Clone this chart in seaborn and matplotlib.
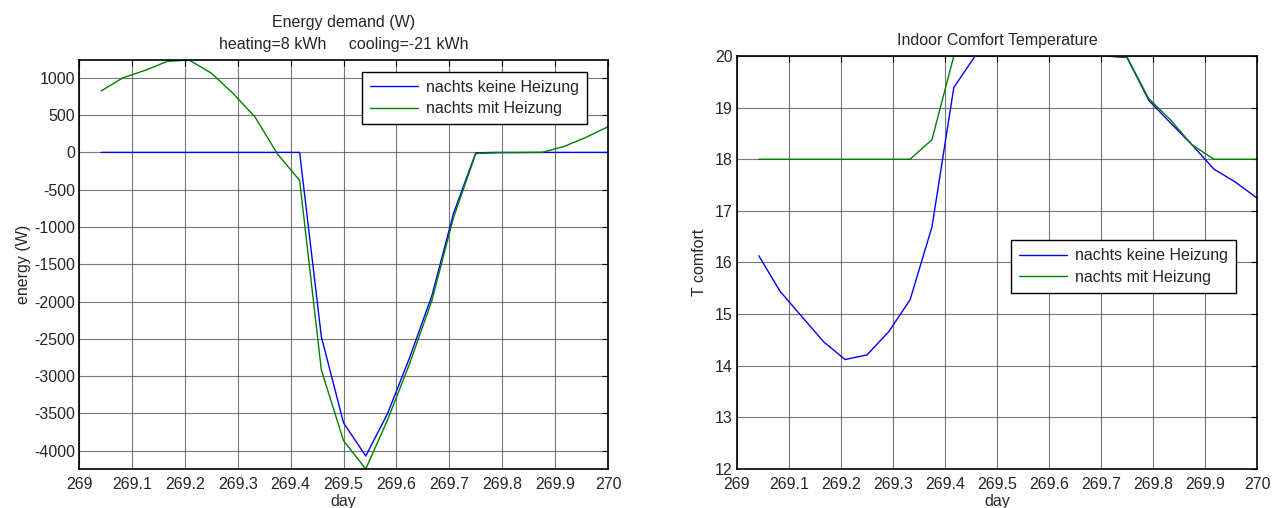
import numpy as np
import pandas as pd
import matplotlib
matplotlib.use("Agg")
import matplotlib.pyplot as plt
import seaborn as sns

# ---- data ----
day = [269.042, 269.083, 269.125, 269.167, 269.208, 269.250, 269.292, 269.333,
       269.375, 269.417, 269.458, 269.500, 269.542, 269.583, 269.625, 269.667,
       269.708, 269.750, 269.792, 269.833, 269.875, 269.917, 269.958, 270.000]

energy_no_heat = [0, 0, 0, 0, 0, 0, 0, 0,
                  0, 0, -2470, -3625, -4070, -3505, -2750, -1920,
                  -815, -5, 0, 0, 0, 0, 0, 0]
energy_heat = [825, 1000, 1100, 1220, 1238, 1063, 785, 471,
               -20, -375, -2915, -3865, -4244, -3590, -2830, -1985,
               -870, -15, -5, -3, 0, 80, 200, 345]

temp_no_heat = [16.13, 15.44, 14.95, 14.46, 14.12, 14.21, 14.66, 15.28,
                16.69, 19.39, 20.0, 20.0, 20.0, 20.0, 20.0, 20.0,
                20.0, 19.97, 19.14, 18.71, 18.28, 17.81, 17.56, 17.25]
temp_heat = [18.0, 18.0, 18.0, 18.0, 18.0, 18.0, 18.0, 18.0,
             18.38, 20.0, 20.0, 20.0, 20.0, 20.0, 20.0, 20.0,
             20.0, 19.98, 19.17, 18.77, 18.28, 18.0, 18.0, 18.0]

series_names = ["nachts keine Heizung", "nachts mit Heizung"]
colors = ["#0000ff", "#008000"]
xticks = [269, 269.1, 269.2, 269.3, 269.4, 269.5, 269.6, 269.7, 269.8, 269.9, 270]
xticklabels = ["269", "269.1", "269.2", "269.3", "269.4", "269.5", "269.6",
               "269.7", "269.8", "269.9", "270"]
energy_yticks = [1000, 500, 0, -500, -1000, -1500, -2000, -2500, -3000, -3500, -4000]
temp_yticks = [12, 13, 14, 15, 16, 17, 18, 19, 20]

sns.set_style("white")
plt.rcParams['font.family'] = ['Liberation Sans', 'DejaVu Sans']
plt.rcParams['axes.unicode_minus'] = False

fig = plt.figure(figsize=(12.79, 5.08), dpi=100)
ax1 = fig.add_axes([0.0618, 0.0768, 0.4136, 0.805])
ax2 = fig.add_axes([0.5762, 0.0768, 0.4066, 0.813])

FS = 11.5

def style_axes(ax):
    ax.grid(True, color="#555555", linewidth=0.8, alpha=0.8)
    ax.set_axisbelow(True)
    for s in ax.spines.values():
        s.set_color("black")
        s.set_linewidth(1.2)
    ax.tick_params(direction="in", top=True, right=True, length=4,
                   labelsize=FS, color="black")
    ax.tick_params(axis="x", pad=6)
    ax.tick_params(axis="y", pad=3)
    ax.set_xticks(xticks)
    ax.set_xticklabels(xticklabels)
    ax.set_xlim(269, 270)

def add_legend(ax, anchor):
    h = [plt.Line2D([], [], color=c, lw=1.0) for c in colors]
    leg = ax.legend(h, series_names, loc="upper right", bbox_to_anchor=anchor,
                    fontsize=FS, frameon=True, fancybox=False, edgecolor="black",
                    framealpha=1, handlelength=3.0, handletextpad=0.5,
                    borderpad=0.5, labelspacing=0.4, borderaxespad=0)
    leg.get_frame().set_linewidth(1.0)

# Left: energy demand
df1 = pd.DataFrame({"day": day * 2,
                    "value": energy_no_heat + energy_heat,
                    "series": [series_names[0]] * len(day) + [series_names[1]] * len(day)})
sns.lineplot(data=df1, x="day", y="value", hue="series", palette=colors,
             linewidth=1.0, ax=ax1, legend=False)
style_axes(ax1)
allv = energy_no_heat + energy_heat
ax1.set_ylim(min(allv), max(allv))
ax1.set_yticks(energy_yticks)
ax1.set_xlabel("day", fontsize=FS, labelpad=1)
ax1.set_ylabel("energy (W)", fontsize=FS, labelpad=2)
ax1.set_title("Energy demand (W)\nheating=8 kWh     cooling=-21 kWh", fontsize=FS,
              pad=8, linespacing=1.55)
add_legend(ax1, (0.96, 0.971))

# Right: comfort temperature
df2 = pd.DataFrame({"day": day * 2,
                    "value": temp_no_heat + temp_heat,
                    "series": [series_names[0]] * len(day) + [series_names[1]] * len(day)})
sns.lineplot(data=df2, x="day", y="value", hue="series", palette=colors,
             linewidth=1.0, ax=ax2, legend=False)
style_axes(ax2)
ax2.set_ylim(12, 20)
ax2.set_yticks(temp_yticks)
ax2.set_xlabel("day", fontsize=FS, labelpad=1)
ax2.set_ylabel("T comfort", fontsize=FS, labelpad=6)
ax2.set_title("Indoor Comfort Temperature", fontsize=FS, pad=8)
add_legend(ax2, (0.96, 0.554))

fig.savefig("out.png", dpi=100)
